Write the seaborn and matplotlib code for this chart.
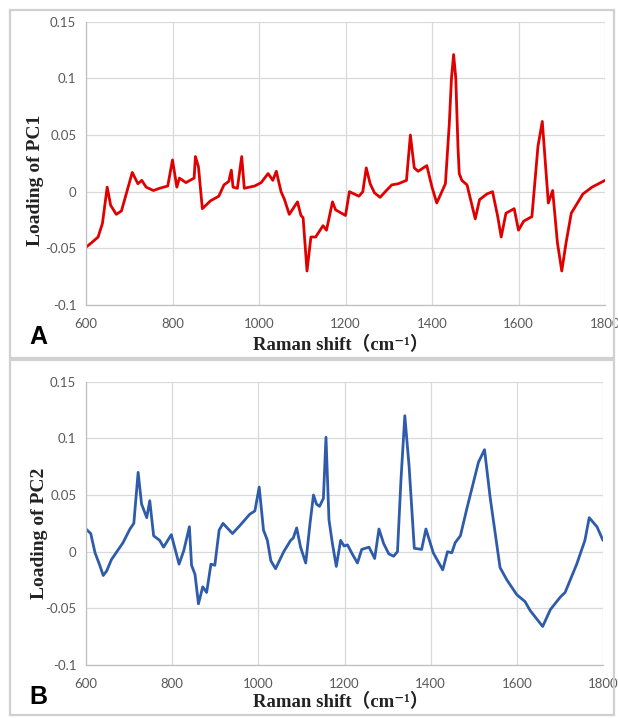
"""PCA loadings of Raman spectra (PC1 / PC2)"""

import matplotlib
matplotlib.use('Agg')
import matplotlib.pyplot as plt
import seaborn as sns
from matplotlib.patches import Rectangle


# ---------------------------- data ------------------------------------
pc1_shift = [600, 613, 628, 638, 649, 657, 670, 682, 693, 707, 720, 729, 739, 756,
             770, 789, 800, 810, 816, 831, 850, 853, 860, 869, 888, 907, 919, 930,
             936, 940, 950, 960, 966, 990, 1005, 1021, 1032, 1040, 1051, 1059, 1070,
             1089, 1097, 1102, 1111, 1120, 1131, 1148, 1156, 1170, 1177, 1200, 1209,
             1231, 1240, 1248, 1257, 1267, 1280, 1292, 1307, 1322, 1341, 1350, 1359,
             1368, 1388, 1400, 1411, 1431, 1440, 1445, 1450, 1455, 1460, 1463, 1469,
             1481, 1500, 1510, 1527, 1540, 1552, 1560, 1571, 1590, 1600, 1612, 1631,
             1645, 1655, 1669, 1679, 1690, 1700, 1710, 1722, 1749, 1770, 1800]
pc1_loading = [-0.049, -0.045, -0.040, -0.028, 0.004, -0.012, -0.020, -0.017, -0.002,
               0.017, 0.007, 0.010, 0.004, 0.001, 0.003, 0.005, 0.028, 0.004, 0.012,
               0.008, 0.012, 0.031, 0.022, -0.015, -0.008, -0.004, 0.006, 0.009, 0.019,
               0.004, 0.003, 0.031, 0.003, 0.005, 0.008, 0.016, 0.010, 0.018, 0.000,
               -0.007, -0.020, -0.009, -0.021, -0.023, -0.070, -0.040, -0.040, -0.030,
               -0.034, -0.009, -0.016, -0.021, 0.000, -0.004, 0.000, 0.021, 0.007,
               -0.001, -0.005, 0.000, 0.006, 0.007, 0.010, 0.050, 0.021, 0.018, 0.023,
               0.004, -0.010, 0.007, 0.060, 0.100, 0.121, 0.100, 0.040, 0.016, 0.010,
               0.006, -0.024, -0.007, -0.002, 0.000, -0.022, -0.040, -0.019, -0.015,
               -0.034, -0.026, -0.022, 0.040, 0.062, -0.010, 0.001, -0.045, -0.070,
               -0.045, -0.019, -0.002, 0.004, 0.010]

pc2_shift = [600, 611, 621, 631, 640, 648, 659, 686, 702, 711, 721, 729, 741, 748, 757,
             771, 780, 798, 816, 827, 840, 845, 853, 861, 871, 880, 890, 899, 909, 918,
             940, 957, 980, 992, 1002, 1012, 1021, 1029, 1040, 1059, 1075, 1081, 1089,
             1098, 1110, 1120, 1128, 1135, 1142, 1151, 1157, 1164, 1172, 1181, 1191,
             1199, 1207, 1218, 1230, 1240, 1257, 1270, 1280, 1291, 1303, 1314, 1323,
             1331, 1340, 1350, 1362, 1379, 1389, 1406, 1428, 1439, 1449, 1457, 1469,
             1484, 1511, 1525, 1538, 1561, 1577, 1600, 1619, 1631, 1660, 1678, 1701,
             1712, 1739, 1758, 1768, 1786, 1800]
pc2_loading = [0.020, 0.016, -0.001, -0.011, -0.021, -0.017, -0.007, 0.008, 0.020,
               0.025, 0.070, 0.042, 0.030, 0.045, 0.014, 0.010, 0.004, 0.015, -0.011,
               0.001, 0.022, -0.012, -0.020, -0.046, -0.031, -0.036, -0.011, -0.012,
               0.019, 0.025, 0.016, 0.023, 0.033, 0.036, 0.057, 0.019, 0.010, -0.008,
               -0.015, 0.000, 0.010, 0.012, 0.021, 0.004, -0.010, 0.025, 0.050, 0.042,
               0.040, 0.047, 0.101, 0.028, 0.007, -0.013, 0.010, 0.005, 0.006, -0.002,
               -0.010, 0.002, 0.004, -0.006, 0.020, 0.007, -0.002, -0.004, 0.000, 0.063,
               0.120, 0.075, 0.003, 0.002, 0.020, -0.001, -0.016, 0.000, -0.001, 0.008,
               0.014, 0.038, 0.079, 0.090, 0.048, -0.014, -0.025, -0.038, -0.044,
               -0.052, -0.066, -0.051, -0.040, -0.036, -0.011, 0.010, 0.030, 0.022, 0.010]

x_ticks = [600, 800, 1000, 1200, 1400, 1600, 1800]
y_ticks = [-0.1, -0.05, 0, 0.05, 0.1, 0.15]
y_tick_labels = ['-0.1', '-0.05', '0', '0.05', '0.1', '0.15']

panels = [
    # (x, y, ylabel, letter, color)
    (pc1_shift, pc1_loading, 'Loading of PC1', 'A', '#e00000'),
    (pc2_shift, pc2_loading, 'Loading of PC2', 'B', '#2e5caa'),
]

# --------------------------- style ------------------------------------
sns.set_style('whitegrid')
plt.rcParams['font.family'] = ['Lato', 'DejaVu Sans']
GRID = '#d9d9d9'
TICK_COLOR = '#595959'
label_font = ['Liberation Serif', 'Noto Sans CJK SC', 'DejaVu Serif']

W, H = 618, 718
fig = plt.figure(figsize=(W / 100, H / 100), dpi=100)

# axes boxes in pixel coordinates (left, top, right, bottom)
ax_boxes = [(86, 21.7, 605, 305), (86, 381.7, 603, 665)]
ylabel_pos = [(35, 180), (39, 533)]
xlabel_pos = [(341, 345), (341, 702)]
letter_pos = [(38, 337), (38, 697)]
frames = [(10, 10, 614, 358), (10, 360, 614, 715)]

for i, (xs, ys, ylab, letter, color) in enumerate(panels):
    l, t, r, b = ax_boxes[i]
    ax = fig.add_axes([l / W, 1 - b / H, (r - l) / W, (b - t) / H])

    sns.lineplot(x=xs, y=ys, ax=ax, color=color, linewidth=2.0,
                 solid_joinstyle='round', solid_capstyle='round')

    ax.set_xlim(600, 1800)
    ax.set_ylim(-0.1, 0.15)
    ax.set_xticks(x_ticks)
    ax.set_yticks(y_ticks)
    ax.set_yticklabels(y_tick_labels)
    ax.grid(True, color=GRID, linewidth=0.9)
    ax.tick_params(axis='both', labelsize=9.5, colors=TICK_COLOR, length=4,
                   width=0.8, pad=3, direction='out')
    ax.tick_params(axis='both', color='#bfbfbf')
    ax.tick_params(axis='x', pad=5)
    for side in ['top', 'right']:
        ax.spines[side].set_visible(False)
    for side in ['left', 'bottom']:
        ax.spines[side].set_color('#bfbfbf')
        ax.spines[side].set_linewidth(0.9)
    ax.set_xlabel('')
    ax.set_ylabel('')

    # labels placed as in the original figure
    fig.text(ylabel_pos[i][0] / W, 1 - ylabel_pos[i][1] / H, ylab, rotation=90,
             ha='center', va='center', fontsize=14, fontweight='bold',
             family=label_font, color='#222222')
    fig.text(xlabel_pos[i][0] / W, 1 - xlabel_pos[i][1] / H, 'Raman shift（cm⁻¹）',
             ha='center', va='center', fontsize=13.5, fontweight='bold',
             family=label_font, color='#222222')
    fig.text(letter_pos[i][0] / W, 1 - letter_pos[i][1] / H, letter,
             ha='center', va='center', fontsize=18, fontweight='bold',
             family=['Liberation Sans', 'DejaVu Sans'], color='black')

    # light grey panel frame
    fl, ft, fr, fb = frames[i]
    fig.patches.append(Rectangle((fl / W, 1 - fb / H), (fr - fl) / W, (fb - ft) / H,
                                 transform=fig.transFigure, fill=False,
                                 edgecolor='#d0d0d0', linewidth=1.6))

plt.savefig('out.png', dpi=100)
